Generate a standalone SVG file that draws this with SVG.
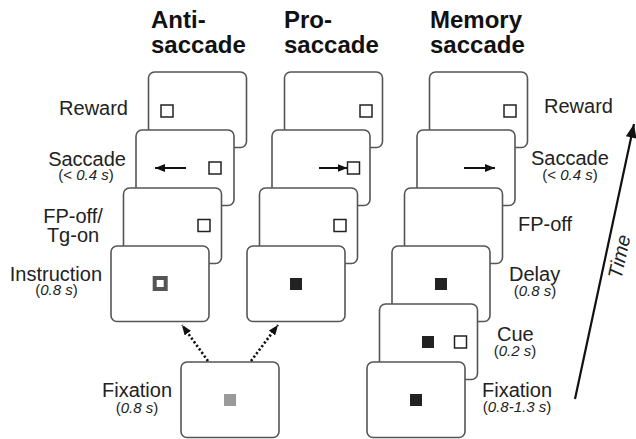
<svg xmlns="http://www.w3.org/2000/svg" width="636" height="439" viewBox="0 0 636 439">
<defs>
<style>
.panel{fill:#fff;stroke:#555;stroke-width:1.6}
.title{font-family:"Liberation Sans",Arial,sans-serif;font-weight:bold;font-size:24px;fill:#111}
.lbl{font-family:"Liberation Sans",Arial,sans-serif;font-size:20px;fill:#222}
.sub{font-family:"Liberation Sans",Arial,sans-serif;font-size:15px;fill:#222}
.it{font-style:italic}
.osq{fill:#fff;stroke:#222;stroke-width:1.5}
.bsq{fill:#222}
.shaft{stroke:#111;stroke-width:2;fill:none}
.dot{stroke:#111;stroke-width:2.6;fill:none;stroke-dasharray:2.2 2.2}
</style>
<marker id="ah" viewBox="0 0 10 8" refX="10" refY="4" markerWidth="10" markerHeight="8" markerUnits="userSpaceOnUse" orient="auto">
<path d="M0,0 L10,4 L0,8 Z" fill="#111"/>
</marker>
<marker id="ahd" viewBox="0 0 10 8" refX="10" refY="4" markerWidth="10" markerHeight="8" markerUnits="userSpaceOnUse" orient="auto">
<path d="M0,0 L10,4 L0,8 Z" fill="#111"/>
</marker>
<marker id="aht" viewBox="0 0 10 8" refX="10" refY="4" markerWidth="16" markerHeight="11" markerUnits="userSpaceOnUse" orient="auto">
<path d="M0,0 L10,4 L0,8 Z" fill="#111"/>
</marker>
</defs>
<rect width="636" height="439" fill="#fff"/>

<g id="titles">
<text class="title" x="151" y="28">Anti-</text>
<text class="title" x="151" y="53">saccade</text>
<text class="title" x="284" y="28">Pro-</text>
<text class="title" x="284" y="53">saccade</text>
<text class="title" x="430" y="28">Memory</text>
<text class="title" x="430" y="53">saccade</text>
</g>

<!-- Anti-saccade column -->
<g id="anti-reward">
<rect class="panel" x="148.5" y="72" width="98" height="75.5" rx="6"/>
<rect class="osq" x="161" y="105" width="12" height="12"/>
</g>
<g id="anti-saccade">
<rect class="panel" x="136" y="130" width="98" height="75.5" rx="6"/>
<line class="shaft" x1="186" y1="168" x2="155" y2="168" marker-end="url(#ah)"/>
<rect class="osq" x="209" y="162" width="12" height="12"/>
</g>
<g id="anti-fpoff">
<rect class="panel" x="123.5" y="188" width="98" height="75.5" rx="6"/>
<rect class="osq" x="198" y="219.5" width="12" height="12"/>
</g>
<g id="anti-instruction">
<rect class="panel" x="111" y="246" width="98" height="75.5" rx="6"/>
<rect x="154.7" y="278" width="11" height="11" fill="#fff" stroke="#555" stroke-width="4"/>
</g>

<!-- Pro-saccade column -->
<g id="pro-reward">
<rect class="panel" x="284.5" y="72" width="98" height="75.5" rx="6"/>
<rect class="osq" x="360" y="105" width="12" height="12"/>
</g>
<g id="pro-saccade">
<rect class="panel" x="272" y="130" width="98" height="75.5" rx="6"/>
<line class="shaft" x1="319" y1="168" x2="347.5" y2="168" marker-end="url(#ah)"/>
<rect class="osq" x="347.5" y="162" width="12" height="12"/>
</g>
<g id="pro-fpoff">
<rect class="panel" x="259.5" y="188" width="98" height="75.5" rx="6"/>
<rect class="osq" x="334" y="219.5" width="12" height="12"/>
</g>
<g id="pro-instruction">
<rect class="panel" x="247" y="246" width="98" height="75.5" rx="6"/>
<rect class="bsq" x="290" y="278" width="12" height="12"/>
</g>

<!-- Memory saccade column -->
<g id="mem-reward">
<rect class="panel" x="429.5" y="72" width="98" height="75.5" rx="6"/>
<rect class="osq" x="504" y="105" width="12" height="12"/>
</g>
<g id="mem-saccade">
<rect class="panel" x="417" y="130" width="98" height="75.5" rx="6"/>
<line class="shaft" x1="464" y1="168" x2="495" y2="168" marker-end="url(#ah)"/>
</g>
<g id="mem-fpoff">
<rect class="panel" x="404.5" y="188" width="98" height="75.5" rx="6"/>
</g>
<g id="mem-delay">
<rect class="panel" x="392" y="246" width="98" height="75.5" rx="6"/>
<rect class="bsq" x="435" y="278" width="12" height="12"/>
</g>
<g id="mem-cue">
<rect class="panel" x="379.5" y="304" width="98" height="75.5" rx="6"/>
<rect class="bsq" x="422" y="336" width="12" height="12"/>
<rect class="osq" x="454.5" y="336" width="12" height="12"/>
</g>
<g id="mem-fixation">
<rect class="panel" x="367" y="362" width="98" height="75.5" rx="6"/>
<rect class="bsq" x="410" y="394" width="12" height="12"/>
</g>

<!-- Shared fixation -->
<g id="fixation">
<rect class="panel" x="181" y="362" width="98" height="75.5" rx="6"/>
<rect x="224" y="394" width="12" height="12" fill="#9a9a9a"/>
</g>

<g id="connectors">
<line class="dot" x1="208" y1="361" x2="182" y2="325" marker-end="url(#ahd)"/>
<line class="dot" x1="251" y1="361" x2="278" y2="325" marker-end="url(#ahd)"/>
<line x1="575" y1="399" x2="634" y2="124" stroke="#111" stroke-width="2.2" marker-end="url(#aht)"/>
</g>

<g id="labels-left">
<text class="lbl" x="128" y="115" text-anchor="end">Reward</text>
<text class="lbl" x="126" y="166" text-anchor="end">Saccade</text>
<text class="sub" x="86" y="180" text-anchor="middle">(&lt; <tspan class="it">0.4 s</tspan>)</text>
<text class="lbl" x="73" y="223" text-anchor="middle">FP-off/</text>
<text class="lbl" x="73" y="242" text-anchor="middle">Tg-on</text>
<text class="lbl" x="102" y="281" text-anchor="end">Instruction</text>
<text class="sub" x="56.5" y="295" text-anchor="middle">(<tspan class="it">0.8 s</tspan>)</text>
<text class="lbl" x="172" y="397" text-anchor="end">Fixation</text>
<text class="sub" x="137" y="412.5" text-anchor="middle">(<tspan class="it">0.8 s</tspan>)</text>
</g>

<g id="labels-right">
<text class="lbl" x="544" y="113">Reward</text>
<text class="lbl" x="531" y="165">Saccade</text>
<text class="sub" x="570" y="180" text-anchor="middle">(&lt; <tspan class="it">0.4 s</tspan>)</text>
<text class="lbl" x="518" y="231">FP-off</text>
<text class="lbl" x="509" y="281">Delay</text>
<text class="sub" x="535" y="295.5" text-anchor="middle">(<tspan class="it">0.8 s</tspan>)</text>
<text class="lbl" x="497" y="341">Cue</text>
<text class="sub" x="515" y="355.5" text-anchor="middle">(<tspan class="it">0.2 s</tspan>)</text>
<text class="lbl" x="482" y="397">Fixation</text>
<text class="sub" x="517" y="411.5" text-anchor="middle">(<tspan class="it">0.8-1.3 s</tspan>)</text>
<text class="lbl it" x="0" y="0" text-anchor="middle" transform="translate(626 258) rotate(-77.8)">Time</text>
</g>
</svg>
